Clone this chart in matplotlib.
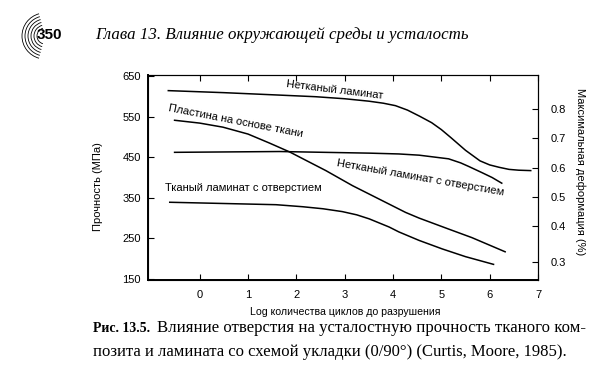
import numpy as np
import matplotlib
matplotlib.use('Agg')
import matplotlib.pyplot as plt
from matplotlib.patches import Arc

plt.rcParams['font.family'] = ['Liberation Sans Narrow', 'Liberation Sans', 'DejaVu Sans']

# curves: log cycles vs strength (MPa)
nonwoven_x = [-0.65, 0.5, 1.65, 2.4, 3.0, 3.5, 3.8, 4.05, 4.3, 4.55, 4.8, 5.0, 5.2, 5.5,
              5.8, 6.0, 6.2, 6.4, 6.6, 6.85]
nonwoven_y = [614, 609, 603, 599, 594, 588, 583, 577, 566, 551, 535, 518, 498, 467,
              441, 431, 425, 420, 418, 417]

plate_x = [-0.52, 0.0, 0.48, 1.0, 1.44, 1.86, 2.61, 3.16, 3.71, 4.26, 4.54, 5.15, 5.63, 6.32]
plate_y = [541, 534, 524, 507, 485, 463, 417, 380, 347, 314, 300, 273, 252, 217]

nonwoven_hole_x = [-0.52, 1.65, 3.51, 4.12, 4.54, 5.15, 5.4, 5.57, 5.84, 6.05, 6.25]
nonwoven_hole_y = [462, 464, 460, 458, 455, 446, 436, 427, 412, 400, 386]

woven_hole_x = [-0.62, 0.48, 1.58, 2.13, 2.55, 2.95, 3.25, 3.51, 3.92, 4.12, 4.54, 5.02, 5.5, 6.08]
woven_hole_y = [339, 336, 333, 328, 323, 316, 308, 298, 278, 266, 245, 224, 205, 186]

left_ticks = [150, 250, 350, 450, 550, 650]
x_ticks = [0, 1, 2, 3, 4, 5, 6, 7]
# right axis labels as printed (the 0.3 mark sits lower than a linear scale gives)
right_tick_pos = [0.8, 0.7, 0.6, 0.5, 0.4, 0.276]
right_tick_labels = ['0.8', '0.7', '0.6', '0.5', '0.4', '0.3']

fig = plt.figure(figsize=(6.16, 3.85), dpi=100)
ax = fig.add_axes([148 / 616, 1 - 280 / 385, 390 / 616, 205 / 385])

for xs, ys in [(nonwoven_x, nonwoven_y), (plate_x, plate_y),
               (nonwoven_hole_x, nonwoven_hole_y), (woven_hole_x, woven_hole_y)]:
    ax.plot(xs, ys, color='black', lw=1.1, solid_joinstyle='round')

ax.set_xlim(-1.07, 6.97)
ax.set_ylim(147.5, 652.5)
ax.set_xticks(x_ticks)
ax.set_yticks(left_ticks)
ax.tick_params(direction='in', length=4, labelsize=8, top=True, pad=5)
ax.tick_params(axis='x', pad=7)
ax.spines['left'].set_linewidth(1.4)
ax.spines['bottom'].set_linewidth(1.4)
ax.spines['top'].set_linewidth(0.8)
ax.spines['right'].set_linewidth(0.8)

ax2 = ax.twinx()
ax2.set_ylim(0.2134, 0.918)
ax2.set_yticks(right_tick_pos)
ax2.set_yticklabels(right_tick_labels)
ax2.tick_params(direction='in', length=4, labelsize=8, pad=9)

ax.set_ylabel('Прочность (МПа)', fontsize=8)
ax.yaxis.set_label_coords(-0.115, 0.454)
ax2.set_ylabel('Максимальная деформация (%)', fontsize=8, rotation=-90, va='center')
ax2.yaxis.set_label_coords(1.108, 0.527)
ax.set_xlabel('Log количества циклов до разрушения', fontsize=7.6)
ax.xaxis.set_label_coords(0.505, -0.132)

lbl = dict(fontsize=8, ha='center', va='center', rotation_mode='anchor')
ax.text(2.80, 615, 'Нетканый ламинат', rotation=-7, **lbl)
ax.text(0.74, 539, 'Пластина на основе ткани', rotation=-11, **lbl)
ax.text(4.56, 400, 'Нетканый ламинат с отверстием', rotation=-10, **lbl)
ax.text(0.91, 375, 'Тканый ламинат с отверстием', rotation=0, **lbl)

# page header and caption
page = fig.add_axes([0, 0, 1, 1], zorder=-1)
page.set_xlim(0, 616)
page.set_ylim(385, 0)
page.axis('off')
for r in [8, 11, 14, 17, 20, 23]:
    page.add_patch(Arc((45, 36), 2 * r, 2 * r, theta1=105, theta2=255, lw=0.6, color='black'))
page.text(37, 35, '350', fontsize=11, fontweight='bold', va='center', ha='left',
          family=['Liberation Sans', 'DejaVu Sans'])
serif = ['Liberation Serif', 'DejaVu Serif']
page.text(95, 35, 'Глава 13. Влияние окружающей среды и усталость', fontsize=12.2,
          style='italic', va='center', ha='left', family=serif)

page.text(93, 328, 'Рис. 13.5.', fontsize=10, fontweight='bold', va='center', ha='left', family=serif)
page.text(157, 328, 'Влияние отверстия на усталостную прочность тканого ком-', fontsize=12.1,
          va='center', ha='left', family=serif)
page.text(93, 352, 'позита и ламината со схемой укладки (0/90°) (Curtis, Moore, 1985).',
          fontsize=12, va='center', ha='left', family=serif)

fig.savefig('out.png', dpi=100)
